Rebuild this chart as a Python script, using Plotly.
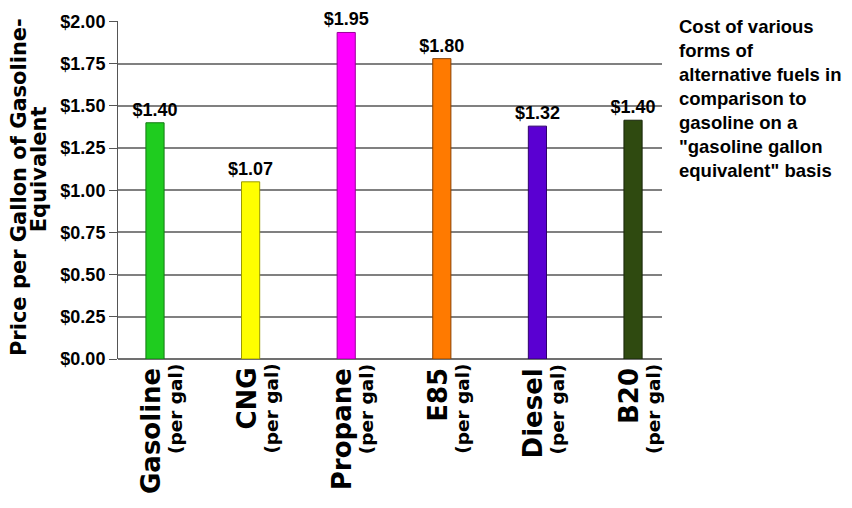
import plotly.graph_objects as go

categories = ["Gasoline", "CNG", "Propane", "E85", "Diesel", "B20"]
unit_label = "(per gal)"
bar_heights = [1.40, 1.05, 1.935, 1.78, 1.38, 1.415]
price_labels = ["$1.40", "$1.07", "$1.95", "$1.80", "$1.32", "$1.40"]
bar_colors = ["#1fcc1f", "#ffff00", "#ff00ff", "#ff7a00", "#5a00d2", "#2f4a10"]
edge_colors = ["#137a13", "#9a9a00", "#9a009a", "#8a4000", "#2e006c", "#18260a"]
y_ticks = [0, 0.25, 0.5, 0.75, 1.0, 1.25, 1.5, 1.75, 2.0]
y_tick_text = ["$%.2f" % v for v in y_ticks]
y_title_lines = ["Price per Gallon of Gasoline-", "Equivalent"]
note_text = ("Cost of various<br>forms of<br>alternative fuels in<br>comparison to<br>"
             "gasoline on a<br>\"gasoline gallon<br>equivalent\" basis")

BOLD = "Liberation Sans"
WIDE = "DejaVu Sans"

x_pos = list(range(len(categories)))

fig = go.Figure()
fig.add_trace(go.Bar(
    x=x_pos, y=bar_heights, width=0.19,
    marker=dict(color=bar_colors, line=dict(color=edge_colors, width=1)),
    text=price_labels, textposition="outside", cliponaxis=False,
    constraintext="none", textangle=0,
    textfont=dict(family=BOLD, size=18, color="black", weight="bold"),
    hoverinfo="skip",
))

annotations = []
for i, name in enumerate(categories):
    annotations.append(dict(
        x=i, y=0, xref="x", yref="paper", text="<b>%s</b>" % name,
        textangle=-90, xanchor="center", yanchor="top", showarrow=False,
        xshift=-4, yshift=-7,
        font=dict(family=WIDE, size=26, color="black"),
    ))
    annotations.append(dict(
        x=i, y=0, xref="x", yref="paper", text="<b>%s</b>" % unit_label,
        textangle=-90, xanchor="center", yanchor="top", showarrow=False,
        xshift=20, yshift=-3,
        font=dict(family=WIDE, size=18.5, color="black"),
    ))

# y-axis title as two rotated lines
annotations.append(dict(
    x=-0.183, y=0.51, xref="paper", yref="paper", text="<b>%s</b>" % y_title_lines[0],
    textangle=-90, xanchor="center", yanchor="middle", showarrow=False,
    font=dict(family=WIDE, size=21, color="black"),
))
annotations.append(dict(
    x=-0.146, y=0.56, xref="paper", yref="paper", text="<b>%s</b>" % y_title_lines[1],
    textangle=-90, xanchor="center", yanchor="middle", showarrow=False,
    font=dict(family=WIDE, size=21, color="black"),
))
annotations.append(dict(
    x=1.028, y=1.022, xref="paper", yref="paper", text="<b>%s</b>" % note_text,
    xanchor="left", yanchor="top", align="left", showarrow=False,
    font=dict(family=BOLD, size=18.5, color="black"),
))

fig.update_layout(
    width=852, height=508,
    margin=dict(l=118, r=190, t=21, b=149, autoexpand=False),
    paper_bgcolor="white", plot_bgcolor="white",
    showlegend=False,
    annotations=annotations,
    xaxis=dict(range=[-0.387, 5.303], showticklabels=False, showgrid=False,
               zeroline=False, showline=False, ticks=""),
    yaxis=dict(range=[0, 2.003], tickmode="array", tickvals=y_ticks, ticktext=y_tick_text,
               ticks="outside", ticklen=8, tickcolor="#555555", tickwidth=1,
               showgrid=True, gridcolor="#808080", gridwidth=1.5,
               zeroline=True, zerolinecolor="#707070", zerolinewidth=1.5,
               showline=True, linecolor="#555555", linewidth=1,
               tickfont=dict(family=BOLD, size=18, color="black", weight="bold")),
)

fig.write_html("out.html")
